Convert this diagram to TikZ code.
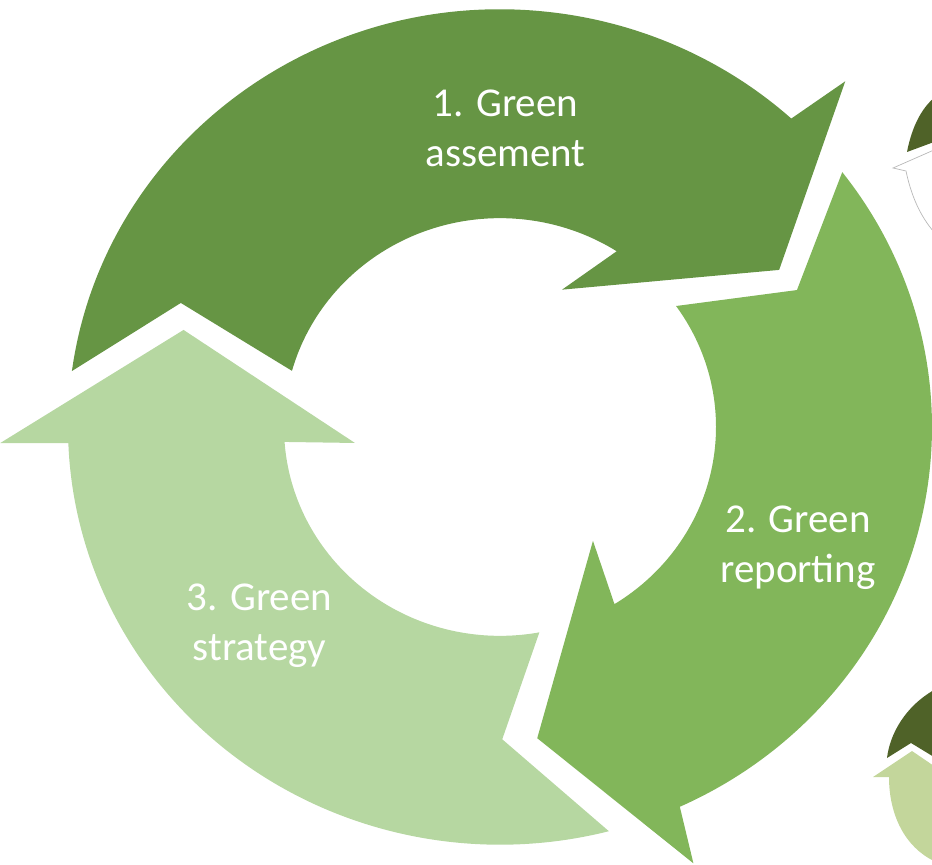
\documentclass[tikz,border=0pt]{standalone}
\usepackage{fontspec}
\setmainfont{Carlito}
\definecolor{assessgreen}{HTML}{669544}
\definecolor{reportgreen}{HTML}{82B65A}
\definecolor{strategygreen}{HTML}{B6D7A1}
\definecolor{olivedark}{HTML}{4F6228}
\definecolor{olivelight}{HTML}{C3D69B}
\tikzstyle{cyclelabel} = [text=white, align=center, anchor=base, inner sep=0pt,
    font=\fontsize{35}{42.7}\selectfont]
\tikzstyle{iconline} = [draw=gray!55, fill=white, line width=0.6pt]

\begin{document}
\begin{tikzpicture}[x=0.03cm, y=0.02901cm]
    \useasboundingbox (-500,-452.9) rectangle (432,441.6);
    \fill[assessgreen] (172.3:432) arc[start angle=172.3, end angle=47.6, radius=432]
        -- (46:497) -- (30.2:323) -- (66.4:155) -- (57.3:216)
        arc[start angle=57.3, end angle=164.4, radius=216] -- (158.1:344) -- cycle;
    \fill[reportgreen] (37.6:432) arc[start angle=37.6, end angle=-65.4, radius=432]
        -- (-66.8:491) -- (-83.4:324) -- (-51.7:150) -- (-58:216)
        arc[start angle=-58, end angle=35.4, radius=216] -- (25.5:329) -- cycle;
    \fill[strategygreen] (-75.4:432) arc[start angle=-75.4, end angle=-177.8, radius=432]
        -- (-178.1:500) -- (-197.6:332) -- (-173.5:146) -- (-175.9:216)
        arc[start angle=-175.9, end angle=-79.5, radius=216] -- (-89.6:323) -- cycle;
    \node[cyclelabel] (assess) at (5.5,268.9) {1. Green\\assement};
    \node[cyclelabel] (report) at (298,-161.3) {2. Green\\reporting};
    \node[cyclelabel] (strategy) at (-240.5,-241) {3. Green\\strategy};
    \begin{scope}[x=0.03cm, y=-0.03cm, shift={(-500,-427)}]
        \clip (0,0) rectangle (932,865);
        \fill[olivedark] (907,152) .. controls (912,126) and (922,108) .. (934,98) -- (934,142) -- cycle;
        \draw[iconline] (934,150) -- (893,168) -- (906,171)
            .. controls (911,195) and (920,216) .. (934,232);
        \fill[olivedark] (887,758) .. controls (890,733) and (906,706) .. (934,690)
            -- (934,757) -- (911,743) -- cycle;
        \fill[olivelight] (873,777) -- (912,751) -- (934,766) -- (934,861)
            .. controls (905,847) and (889,815) .. (889,777) -- cycle;
    \end{scope}
\end{tikzpicture}
\end{document}
